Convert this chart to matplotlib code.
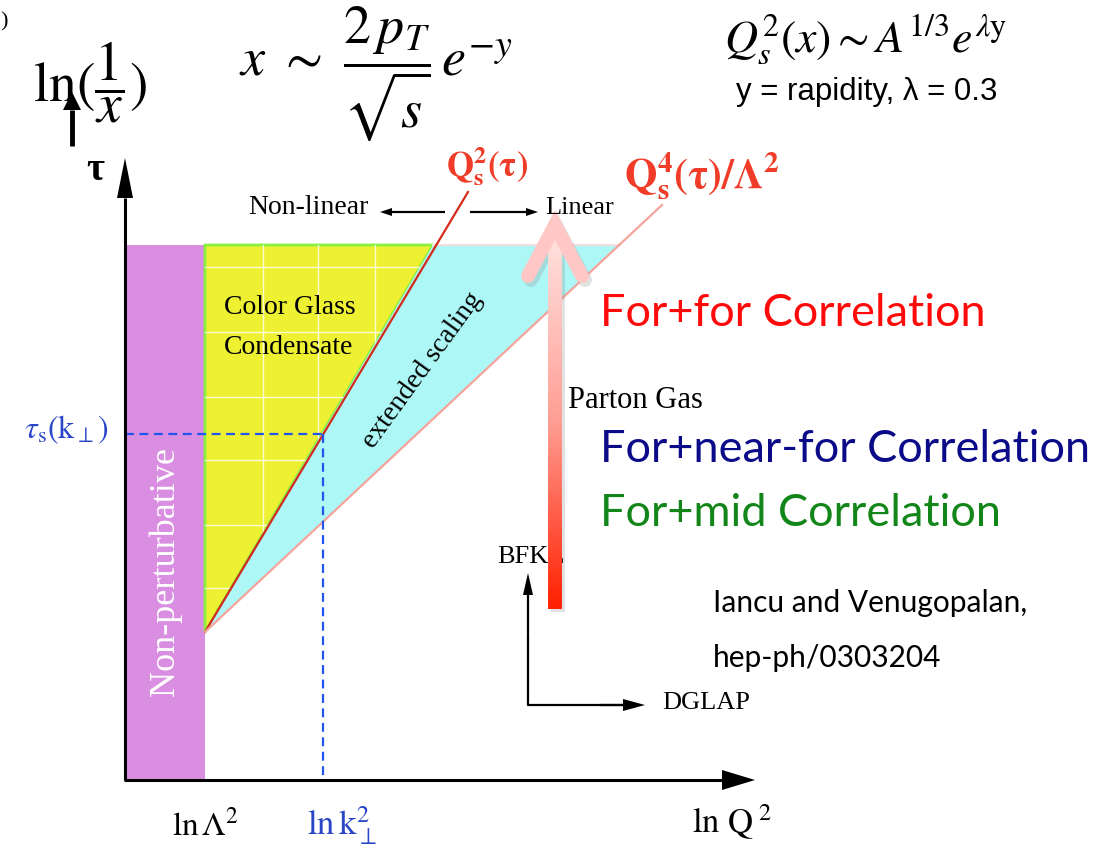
import numpy as np
import matplotlib.pyplot as plt
from matplotlib.patches import Polygon, Rectangle
from matplotlib.collections import LineCollection
from matplotlib.colors import LinearSegmentedColormap

plt.rcParams['mathtext.fontset'] = 'stix'
plt.rcParams['font.family'] = 'Liberation Serif'

# geometry of the (ln Q^2, tau) plane, in canvas pixels
axis_x, axis_y = 125, 780
tau_tip, q2_tip = 158, 755
ln_lambda2 = 205        # ln Lambda^2
ln_kperp2 = 323         # ln k_perp^2
tau_s = 434             # tau_s(k_perp)
top_y = 245             # upper edge of the shaded regions
apex_y = 632            # both saturation lines start here
qs2_top, qs2_end = (433, 245), (468, 192)
qs4_top, qs4_end = (620, 245), (662, 205)

# white grid on the CGC triangle
grid_x = [263, 318, 375]
grid_y = [267, 332, 397, 460, 525, 588]

# correlation labels on the right
corr_labels = ['For+for Correlation', 'For+near-for Correlation', 'For+mid Correlation']
corr_colors = ['#ff0a0a', '#0b0b8a', '#13861a']
corr_y = [314, 449, 513]


def arrow(ax, x0, y0, x1, y1, lw=2.0, hl=14, hw=5, color='black', z=5):
    # straight line with a filled triangular head at (x1, y1)
    d = np.array([x1 - x0, y1 - y0], float)
    L = np.hypot(*d)
    u = d / L
    n = np.array([-u[1], u[0]])
    base = np.array([x1, y1]) - u * hl
    ax.plot([x0, base[0]], [y0, base[1]], color=color, lw=lw, solid_capstyle='butt', zorder=z)
    head = [(x1, y1), tuple(base + n * hw), tuple(base - n * hw)]
    ax.add_patch(Polygon(head, closed=True, color=color, lw=0, zorder=z))


fig = plt.figure(figsize=(11.08, 8.51), dpi=100)
ax = fig.add_axes([0, 0, 1, 1])
ax.set_xlim(0, 1108)
ax.set_ylim(851, 0)
ax.axis('off')

# regions
ax.add_patch(Rectangle((axis_x, top_y), ln_lambda2 - axis_x, axis_y - top_y,
                       color='#d98ee2', lw=0, zorder=1))
cgc = Polygon([(ln_lambda2, top_y), qs2_top, (ln_lambda2, apex_y)], closed=True,
              facecolor='#eef032', edgecolor='#88f040', lw=2, zorder=2)
ax.add_patch(cgc)
ax.add_patch(Polygon([(ln_lambda2, apex_y), qs2_top, qs4_top], closed=True,
                     facecolor='#adf7f7', edgecolor='none', zorder=2))
ax.plot([qs2_top[0], qs4_top[0]], [top_y, top_y], color='#f4dede', lw=1.5, zorder=2)

for gx in grid_x:
    ln, = ax.plot([gx, gx], [top_y, apex_y], color='white', lw=1, alpha=0.8, zorder=3)
    ln.set_clip_path(cgc)
for gy in grid_y:
    ln, = ax.plot([ln_lambda2, qs2_top[0]], [gy, gy], color='white', lw=1, alpha=0.8, zorder=3)
    ln.set_clip_path(cgc)

# saturation lines
ax.plot([ln_lambda2, qs2_end[0]], [apex_y, qs2_end[1]], color='#d42a1a', lw=1.6, zorder=4)
ax.plot([ln_lambda2, qs4_end[0]], [apex_y, qs4_end[1]], color='#f5a49c', lw=1.6, zorder=4)

# tau_s(k_perp) guide lines
ax.plot([axis_x, ln_kperp2], [tau_s, tau_s], color='#2255ee', lw=1.6, ls=(0, (4, 2.5)), zorder=4)
ax.plot([ln_kperp2, ln_kperp2], [tau_s, axis_y], color='#2255ee', lw=1.6, ls=(0, (4, 2.5)), zorder=4)

# axes
arrow(ax, axis_x, axis_y, axis_x, tau_tip, lw=2.2, hl=40, hw=8)
arrow(ax, axis_x - 1, axis_y, q2_tip, axis_y, lw=2.2, hl=33, hw=10)

# evolution arrows
arrow(ax, 445, 212, 380, 212, lw=1.6, hl=12, hw=4)
arrow(ax, 470, 212, 538, 212, lw=1.6, hl=12, hw=4)
ax.plot([528, 528, 630], [640, 705, 705], color='black', lw=1.6, zorder=5)
arrow(ax, 528, 640, 528, 573, lw=1.6, hl=22, hw=5)
arrow(ax, 600, 705, 645, 705, lw=1.6, hl=22, hw=6)

# big gradient arrow (shadow first)
shaft_x, shaft_top, shaft_bot = 555, 232, 608
head_l, head_r, head_y, tip_y = 528, 582, 276, 225
ax.plot([shaft_x + 3] * 2, [shaft_top + 4, shaft_bot + 4], color='#888888', alpha=0.25,
        lw=10, solid_capstyle='butt', zorder=5)
ax.plot([head_l + 3, shaft_x + 3, head_r + 3], [head_y + 4, tip_y + 4, head_y + 4],
        color='#888888', alpha=0.25, lw=10, solid_capstyle='round', solid_joinstyle='miter', zorder=5)
cmap = LinearSegmentedColormap.from_list('fade', ['#ffe2e0', '#ff9e94', '#ff2000'])
ys = np.linspace(shaft_top, shaft_bot, 120)
segs = [[(shaft_x, ys[i]), (shaft_x, ys[i + 1] + 0.5)] for i in range(len(ys) - 1)]
ax.add_collection(LineCollection(segs, colors=cmap(np.linspace(0, 1, len(segs))),
                                 linewidths=10, capstyle='butt', zorder=6))
ax.plot([head_l, shaft_x, head_r], [head_y, tip_y, head_y], color='#ffc8c6', lw=10,
        solid_capstyle='round', solid_joinstyle='miter', zorder=6)

# region labels
ax.text(165, 571, 'Non-perturbative', color='white', fontsize=26, rotation=90,
        ha='center', va='center', zorder=7)
ax.text(224, 307, 'Color Glass', fontsize=20, ha='left', va='center', zorder=7)
ax.text(224, 348, 'Condensate', fontsize=20, ha='left', va='center', zorder=7)
ax.text(423, 370, 'extended scaling', fontsize=20, rotation=54, ha='center', va='center', zorder=7)
ax.text(308, 208, 'Non-linear', fontsize=20, ha='center', va='center', zorder=7)
ax.text(545, 208, 'Linear', fontsize=19, ha='left', va='center', zorder=7)
ax.text(568, 400, 'Parton Gas', fontsize=22, ha='left', va='center', zorder=7)
ax.text(497, 557, 'BFKL', fontsize=19, ha='left', va='center', zorder=5)
ax.text(662, 703, 'DGLAP', fontsize=19, ha='left', va='center', zorder=7)

# saturation-line labels
ax.text(446, 166, r'$\mathbf{Q}_{\mathbf{s}}^{\mathbf{2}}\mathbf{(\tau)}$', color='#f03c28',
        fontsize=25, ha='left', va='center')
ax.text(624, 175, r'$\mathbf{Q}_{\mathbf{s}}^{\mathbf{4}}\mathbf{(\tau)/\Lambda^2}$', color='#f03c28',
        fontsize=30, ha='left', va='center')

# axis labels
ax.text(95, 170, 'τ', fontsize=28, fontweight='bold', ha='center', va='center')
ax.text(66, 430, r'$\tau_{\rm s}({\rm k}_{\perp})$', color='#2a46c8', fontsize=23,
        ha='center', va='center')
ax.text(205, 826, r'${\rm ln}\,\Lambda^{2}$', fontsize=24, ha='center', va='center')
ax.text(342, 826, r'${\rm ln}\,{\rm k}_{\perp}^{2}$', color='#2a46c8', fontsize=25,
        ha='center', va='center')
ax.text(732, 822, r'${\rm ln\ Q}^{\ 2}$', fontsize=25, ha='center', va='center')

# formulas on top
ax.text(0, 22, ')', fontsize=16, ha='left', va='center')
ax.text(90, 82, r'$\ln(\dfrac{1}{x})$', fontsize=40, ha='center', va='center')
arrow(ax, 72, 146, 72, 92, lw=3.5, hl=18, hw=9)
ax.text(376, 74, r'$x\ \sim\ \dfrac{2\,p_T}{\sqrt{s}}\,e^{-y}$', fontsize=39, ha='center', va='center')
ax.text(866, 40, r'$Q_s^2(x) \sim A^{1/3}e^{\lambda {\rm y}}$', fontsize=33, ha='center', va='center')
ax.text(867, 92, 'y = rapidity, λ = 0.3', family='Liberation Sans', fontsize=22.5,
        ha='center', va='center')

# correlation labels and reference
for lab, col, y in zip(corr_labels, corr_colors, corr_y):
    ax.text(600, y, lab, color=col, family='Lato', fontsize=32.5, ha='left', va='center', zorder=7)
ax.text(713, 603, 'Iancu and Venugopalan,', family='Lato', fontsize=21.5, ha='left', va='center')
ax.text(713, 658, 'hep-ph/0303204', family='Lato', fontsize=21.5, ha='left', va='center')

fig.savefig('out.png', dpi=100)
